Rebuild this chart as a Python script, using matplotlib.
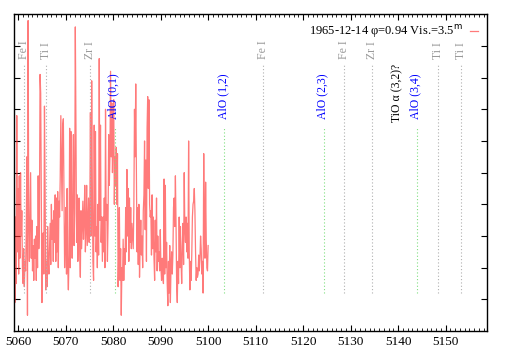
import numpy as np
import matplotlib
matplotlib.use("Agg")
import matplotlib.pyplot as plt
from matplotlib.ticker import MultipleLocator

plt.rcParams['font.family'] = ['Liberation Serif', 'DejaVu Serif']

# spectrum (arbitrary flux units), evenly spaced from 5059.2 to 5100.0 A
wave_start, wave_end = 5059.2, 5100.0
flux = [5.3, 0.9, 3.6, 1.5, 6.8, 2.5, 4.5, 1.8, 4.9, 2.3, 5.0, 3.0,
        3.8, 2.0, 1.5, 2.6, 1.4, 2.2, 1.9, 3.0, 5.5, 0.5, 9.8, 3.5,
        2.2, 3.7, 5.0, 2.3, 3.5, 1.9, 2.7, 1.6, 2.9, 2.3, 3.0, 1.6,
        3.3, 2.0, 4.9, 2.6, 3.5, 8.1, 7.5, 4.0, 0.9, 2.5, 3.1, 1.8,
        7.1, 4.5, 1.3, 2.2, 1.4, 3.3, 2.3, 1.8, 2.6, 3.4, 2.1, 4.0,
        2.9, 3.5, 2.2, 3.8, 2.8, 4.3, 2.2, 4.2, 2.5, 4.4, 2.0, 4.1,
        3.6, 4.8, 6.8, 5.2, 3.8, 6.5,
        6.7, 4.5, 2.0, 2.8, 3.9, 1.8, 4.5, 2.0, 1.3, 2.4, 6.4, 2.0,
        6.3, 3.8, 2.3, 4.7, 6.2, 2.7, 3.7, 9.6, 6.5, 2.8, 4.3, 2.2,
        3.1, 4.2, 2.5, 1.7, 3.8, 2.6, 3.3, 4.1, 2.9, 3.5, 4.6, 2.5,
        3.2, 4.6, 2.7, 3.4, 4.2, 2.8, 3.5, 6.9, 3.0, 7.9, 4.7, 2.2,
        1.6, 6.5, 3.0, 6.3, 2.5, 3.3, 2.0, 4.0, 2.4, 8.6, 3.5, 6.5,
        2.8, 3.6, 2.2, 3.6, 2.5, 4.2, 2.0, 7.0, 3.5, 4.0, 2.2, 3.4,
        6.2, 4.6, 5.5, 8.2, 5.5, 7.2, 5.0, 6.0,
        7.3, 4.0, 5.5, 4.6, 5.8, 4.0, 5.6, 1.4, 2.5, 3.9, 1.6, 2.6,
        0.5, 2.0, 1.6, 2.9, 1.6, 2.6, 2.1, 3.9, 2.5, 5.1, 3.0, 4.5,
        2.2, 4.2, 2.8, 3.9, 2.6, 3.4, 3.0, 2.6, 3.9, 7.0, 5.5, 7.8,
        5.0, 2.5, 3.9, 2.1, 4.0, 1.7, 2.7, 3.5, 2.4, 3.0, 2.0, 3.8,
        4.3, 6.0, 3.2, 5.4, 2.2, 6.4, 7.4, 4.5, 7.3, 4.0, 3.6, 3.8,
        2.4, 4.3, 2.6, 3.6, 2.3, 1.6, 3.5, 2.5, 4.2, 1.9, 3.0, 2.2,
        2.5, 1.9,
        3.2, 2.0, 1.6, 2.3, 1.8, 1.5, 4.8, 1.8, 4.6, 2.0, 2.8, 1.5,
        0.8, 2.2, 1.2, 2.7, 0.9, 2.0, 2.5, 1.8, 2.4, 3.9, 4.2, 3.3,
        4.9, 3.4, 1.4, 0.9, 2.2, 1.5, 3.6, 2.0, 3.3, 2.2, 1.5, 2.7,
        3.4, 2.1, 5.0, 3.2, 2.8, 3.6, 2.5, 3.4, 2.3, 6.0, 2.5, 1.3,
        2.2, 1.6, 2.4, 3.6, 4.0, 4.1, 4.5, 3.8, 2.5, 1.6, 2.0, 1.7,
        1.8, 2.4, 1.9, 2.3, 3.0, 2.6, 1.8, 2.2, 1.2, 5.6, 3.0, 2.3,
        4.7, 2.9, 2.0, 1.9, 2.7]
wave = np.linspace(wave_start, wave_end, len(flux))

# line identifications
gray_ids = ["Fe I", "Ti I", "Zr I", "Fe I", "Fe I", "Zr I", "Ti I", "Ti I"]
gray_wl = [5061.3, 5065.9, 5075.2, 5111.6, 5128.6, 5134.4, 5148.4, 5153.2]
alo_ids = ["AlO (0,1)", "AlO (1,2)", "AlO (2,3)", "AlO (3,4)"]
alo_wl = [5080.4, 5103.4, 5124.3, 5143.9]
tio_id = "TiO \u03b1 (3,2)?"
tio_wl = 5139.9

legend_label = "1965-12-14 \u03c6=0.94 Vis.=3.5$^{\\rm m}$"

fig = plt.figure(figsize=(5.09, 3.56), dpi=100)
ax = fig.add_axes([0.028, 0.070, 0.928, 0.890])

ax.plot(wave, flux, color=(1.0, 0.2, 0.2), alpha=0.65, lw=0.9,
        label=legend_label)

for name, wl in zip(gray_ids, gray_wl):
    ax.plot([wl, wl], [1.2, 8.45], color='#b0b0b0', lw=0.8,
            ls=(0, (1, 2)))
    ax.text(wl, 8.6, name, rotation=90, ha='center', va='bottom',
            color='#999999', fontsize=8.5)

for name, wl in zip(alo_ids, alo_wl):
    ax.plot([wl, wl], [1.2, 6.45], color='#80e080', lw=0.8,
            ls=(0, (1, 2)))
    ax.text(wl - 0.3, 6.7, name, rotation=90, ha='center', va='bottom',
            color='#0000ff', fontsize=8.5)

ax.text(tio_wl, 6.6, tio_id, rotation=90, ha='center', va='bottom',
        color='black', fontsize=8.5)

ax.set_xlim(5059.2, 5158.6)
ax.set_ylim(0, 10)
ax.xaxis.set_major_locator(MultipleLocator(10))
ax.xaxis.set_minor_locator(MultipleLocator(1))
ax.set_yticks(range(1, 10))
ax.set_yticklabels([])
ax.tick_params(which='both', direction='in', top=True, right=True,
               labelsize=9.5, pad=3.5)
ax.tick_params(which='major', length=4, width=0.8)
ax.tick_params(which='minor', length=2, width=0.6)
for s in ax.spines.values():
    s.set_linewidth(1.0)

leg = ax.legend(loc='upper right', frameon=False, fontsize=9,
                handlelength=0.6, handletextpad=0.6, borderaxespad=0.3,
                markerfirst=False)

fig.savefig("out.png", dpi=100)
